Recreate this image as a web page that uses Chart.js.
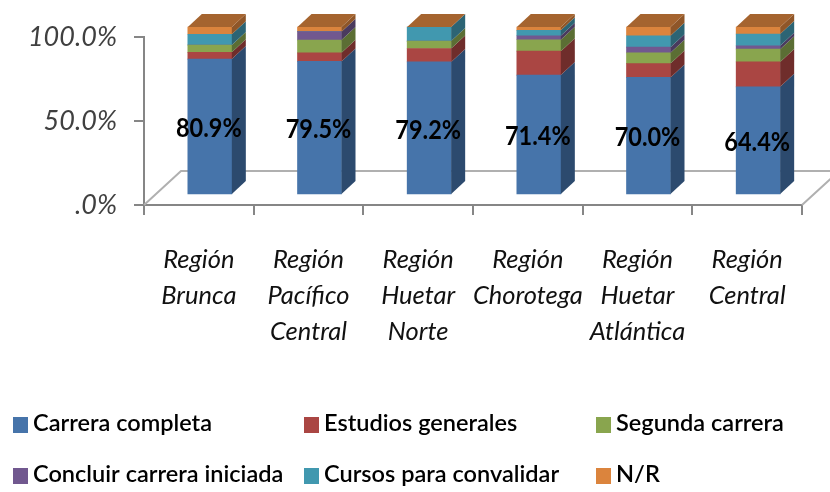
<!DOCTYPE html>
<html><head><meta charset="utf-8">
<style>html,body{margin:0;padding:0;background:#fff}canvas{display:block}</style>
<script src="https://cdn.jsdelivr.net/npm/chart.js@4"></script>
</head><body>
<div style="width:830px;height:492px"><canvas id="c" width="830" height="492"></canvas></div>
<script>
const categories = [["Región","Brunca"],["Región","Pacífico","Central"],["Región","Huetar","Norte"],["Región","Chorotega"],["Región","Huetar","Atlántica"],["Región","Central"]];
const carreraCompleta = [80.9,79.5,79.2,71.4,70.0,64.4];
const estudiosGenerales = [4.0,5.1,8.0,14.2,8.2,14.8];
const segundaCarrera = [4.4,7.6,4.4,6.8,6.4,7.6];
const concluirCarrera = [0,5.0,0,2.4,3.4,2.0];
const cursosConvalidar = [6.4,0,8.4,3.2,6.8,7.0];
const noResponde = [4.3,2.8,0,2.0,5.2,4.2];
const seriesNames = ["Carrera completa","Estudios generales","Segunda carrera","Concluir carrera iniciada","Cursos para convalidar","N/R"];
const frontColors = ["#4674AA","#AA4643","#89A54E","#71588F","#4198AF","#DB843D"];
const sideColors = ["#2C4A6E","#6F2D2B","#5B6E34","#4A3A5E","#2C6474","#8F5628"];
const topColor = "#A5642F";
const seriesValues = [carreraCompleta,estudiosGenerales,segundaCarrera,concluirCarrera,cursosConvalidar,noResponde];

const BAR_SHIFT = {x:11,y:-10}, BAR_DEPTH = {x:14,y:-13}, FLOOR = {x:37,y:-34};
const LEGEND_COLS = [13,304,596], LEGEND_ROWS = [425,476];

const threeD = {
  id:'threeD',
  beforeDatasetsDraw(chart){
    const {ctx,chartArea:a} = chart;
    ctx.save();
    ctx.strokeStyle='#B0B0B0'; ctx.lineWidth=2;
    ctx.beginPath();
    ctx.moveTo(a.left,a.bottom); ctx.lineTo(a.left+FLOOR.x,a.bottom+FLOOR.y); ctx.lineTo(a.right+FLOOR.x,a.bottom+FLOOR.y); ctx.lineTo(a.right,a.bottom);
    ctx.stroke();
    ctx.restore();
    ctx.save();
    ctx.translate(BAR_SHIFT.x,BAR_SHIFT.y);
  },
  afterDatasetsDraw(chart){
    const {ctx} = chart;
    const n = categories.length;
    const dx=BAR_DEPTH.x, dy=BAR_DEPTH.y;
    for(let d=0;d<seriesValues.length;d++){
      const meta = chart.getDatasetMeta(d);
      for(let i=0;i<n;i++){
        const el = meta.data[i];
        if(!seriesValues[d][i]) continue;
        const r = el.x+el.width/2;
        ctx.fillStyle = sideColors[d];
        ctx.beginPath();
        ctx.moveTo(r,el.base); ctx.lineTo(r+dx,el.base+dy); ctx.lineTo(r+dx,el.y+dy); ctx.lineTo(r,el.y);
        ctx.closePath(); ctx.fill();
      }
    }
    const yScale = chart.scales.y;
    const topY = yScale.getPixelForValue(100);
    const m0 = chart.getDatasetMeta(0);
    ctx.fillStyle = topColor;
    for(let i=0;i<n;i++){
      const el = m0.data[i], l = el.x-el.width/2, r = el.x+el.width/2;
      ctx.beginPath();
      ctx.moveTo(l,topY); ctx.lineTo(r,topY); ctx.lineTo(r+dx,topY+dy); ctx.lineTo(l+dx,topY+dy);
      ctx.closePath(); ctx.fill();
    }
    ctx.fillStyle='#000'; ctx.font='700 27px Lato'; ctx.textAlign='center'; ctx.textBaseline='middle';
    for(let i=0;i<n;i++){
      const el = m0.data[i];
      ctx.save();
      ctx.translate(el.x-1,(el.y+el.base)/2+2);
      ctx.scale(0.87,1);
      ctx.fillText(carreraCompleta[i].toFixed(1)+'%',0,0);
      ctx.restore();
    }
    ctx.restore();
    ctx.save();
    ctx.textAlign='left'; ctx.textBaseline='middle'; ctx.font='600 22px Lato';
    seriesNames.forEach((name,i)=>{
      const x = LEGEND_COLS[i%3], y = LEGEND_ROWS[Math.floor(i/3)];
      ctx.fillStyle = frontColors[i];
      ctx.fillRect(x,y-8,15,16);
      ctx.fillStyle='#000';
      ctx.save();
      ctx.translate(x+20,y-1);
      ctx.scale(1.07,1);
      ctx.fillText(name,0,0);
      ctx.restore();
    });
    ctx.restore();
  }
};

new Chart(document.getElementById('c'),{
  type:'bar',
  data:{labels:categories,datasets:seriesValues.map((v,i)=>({label:seriesNames[i],data:v,backgroundColor:frontColors[i],borderWidth:0,barThickness:44,clip:false}))},
  plugins:[threeD],
  options:{
    responsive:false,animation:false,
    layout:{padding:{top:37,right:28,left:0,bottom:0}},
    plugins:{legend:{display:false},tooltip:{enabled:false},title:{display:false}},
    scales:{
      x:{stacked:true,
        afterFit(s){s.height=287;},
        border:{color:'#868686',width:2},
        grid:{drawOnChartArea:false,color:'#868686',lineWidth:2,tickLength:10,tickColor:'#868686'},
        ticks:{autoSkip:false,maxRotation:0,minRotation:0,padding:27,color:'#111',font:{family:'Lato',style:'italic',size:25.5,lineHeight:1.41}}},
      y:{stacked:true,min:0,max:100,
        afterFit(s){s.width=144;},
        border:{color:'#868686',width:2},
        grid:{drawOnChartArea:false,color:'#868686',lineWidth:2,tickLength:10,tickColor:'#868686'},
        ticks:{stepSize:50,padding:17,color:'#404040',font:{family:'Lato',style:'italic',size:27},
          callback:v=>v===0?'.0%':v.toFixed(1)+'%'}}
    }
  }
});
</script>
</body></html>
